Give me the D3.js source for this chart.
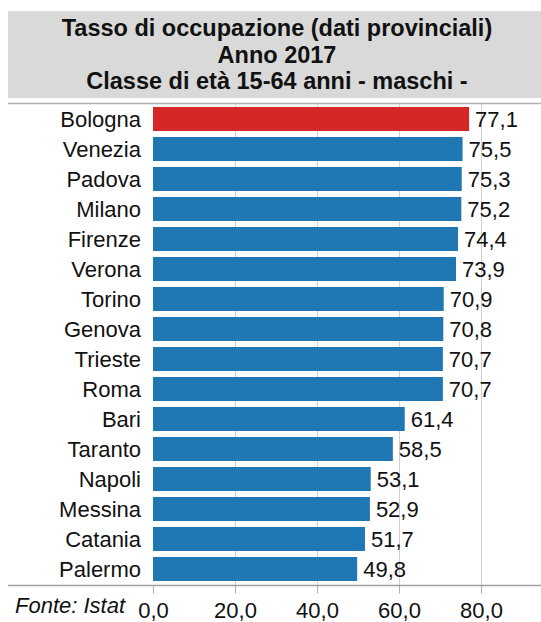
<!DOCTYPE html>
<html lang="it">
<head>
<meta charset="utf-8">
<title>Tasso di occupazione</title>
<script src="https://cdn.jsdelivr.net/npm/d3@7"></script>
<style>
  body { margin: 0; background: #fff; }
  text { font-family: "Liberation Sans", Arial, sans-serif; }
</style>
</head>
<body>
<div id="chart"></div>
<script>
// data
var province = ["Bologna", "Venezia", "Padova", "Milano", "Firenze", "Verona", "Torino", "Genova",
                "Trieste", "Roma", "Bari", "Taranto", "Napoli", "Messina", "Catania", "Palermo"];
var tasso = [77.1, 75.5, 75.3, 75.2, 74.4, 73.9, 70.9, 70.8, 70.7, 70.7, 61.4, 58.5, 53.1, 52.9, 51.7, 49.8];
var ticks = [0, 20, 40, 60, 80];
var titolo = ["Tasso di occupazione (dati provinciali)", "Anno 2017", "Classe di età 15-64 anni - maschi -"];

var w = 541, h = 622;
var svg = d3.select("#chart").append("svg")
    .attr("width", w)
    .attr("height", h);

// title box
svg.append("rect")
    .attr("x", 8).attr("y", 11)
    .attr("width", w - 8).attr("height", 87)
    .attr("fill", "#d9d9d9");

svg.selectAll(".titolo")
    .data(titolo)
    .enter().append("text")
    .attr("class", "titolo")
    .attr("x", 277)
    .attr("y", function(d, i) { return 36 + i * 26.5; })
    .attr("text-anchor", "middle")
    .attr("font-size", "23.5px")
    .attr("font-weight", "bold")
    .attr("fill", "#111")
    .text(function(d) { return d; });

// scales
var x = d3.scaleLinear().domain([0, 80]).range([153, 481]);
var y = d3.scaleBand()
    .domain(province)
    .range([104, 584])
    .paddingInner(0.2)
    .paddingOuter(0.1);

// top line
svg.append("line")
    .attr("x1", 8).attr("x2", w)
    .attr("y1", 103.5).attr("y2", 103.5)
    .attr("stroke", "#b0b0b0").attr("stroke-width", 1.5);

// gridlines
svg.selectAll(".grid")
    .data(ticks.slice(1))
    .enter().append("line")
    .attr("class", "grid")
    .attr("x1", function(d) { return Math.round(x(d)) + 0.5; })
    .attr("x2", function(d) { return Math.round(x(d)) + 0.5; })
    .attr("y1", 104).attr("y2", 585)
    .attr("stroke", "#d0d0d0");

// bars
svg.selectAll(".bar")
    .data(province)
    .enter().append("rect")
    .attr("class", "bar")
    .attr("x", x(0))
    .attr("y", function(d) { return y(d); })
    .attr("width", function(d, i) { return x(tasso[i]) - x(0); })
    .attr("height", y.bandwidth())
    .attr("fill", function(d, i) { return i === 0 ? "#d62728" : "#1f77b4"; });

// category labels
svg.selectAll(".lab")
    .data(province)
    .enter().append("text")
    .attr("class", "lab")
    .attr("x", 141)
    .attr("y", function(d) { return y(d) + y.bandwidth() / 2; })
    .attr("dy", "0.36em")
    .attr("text-anchor", "end")
    .attr("font-size", "22px")
    .attr("fill", "#111")
    .text(function(d) { return d; });

// value labels
var fmt = function(v) { return v.toFixed(1).replace(".", ","); };
svg.selectAll(".val")
    .data(province)
    .enter().append("text")
    .attr("class", "val")
    .attr("x", function(d, i) { return x(tasso[i]) + 6; })
    .attr("y", function(d) { return y(d) + y.bandwidth() / 2; })
    .attr("dy", "0.36em")
    .attr("font-size", "22px")
    .attr("fill", "#111")
    .text(function(d, i) { return fmt(tasso[i]); });

// x axis
var xAxis = d3.axisBottom(x)
    .tickValues(ticks)
    .tickSize(8)
    .tickFormat(fmt);

var ax = svg.append("g")
    .attr("transform", "translate(0,585.5)")
    .call(xAxis);
ax.select(".domain").remove();
ax.selectAll(".tick line").attr("stroke", "#b0b0b0");
ax.selectAll(".tick text")
    .attr("y", 17)
    .attr("font-size", "22px")
    .attr("font-family", "'Liberation Sans', Arial, sans-serif")
    .attr("fill", "#111");

svg.append("line")
    .attr("x1", 8).attr("x2", w)
    .attr("y1", 585.5).attr("y2", 585.5)
    .attr("stroke", "#a0a0a0").attr("stroke-width", 1.5);

// source
svg.append("text")
    .attr("x", 15).attr("y", 613)
    .attr("font-size", "22px")
    .attr("font-style", "italic")
    .attr("fill", "#111")
    .text("Fonte: Istat");
</script>
</body>
</html>
